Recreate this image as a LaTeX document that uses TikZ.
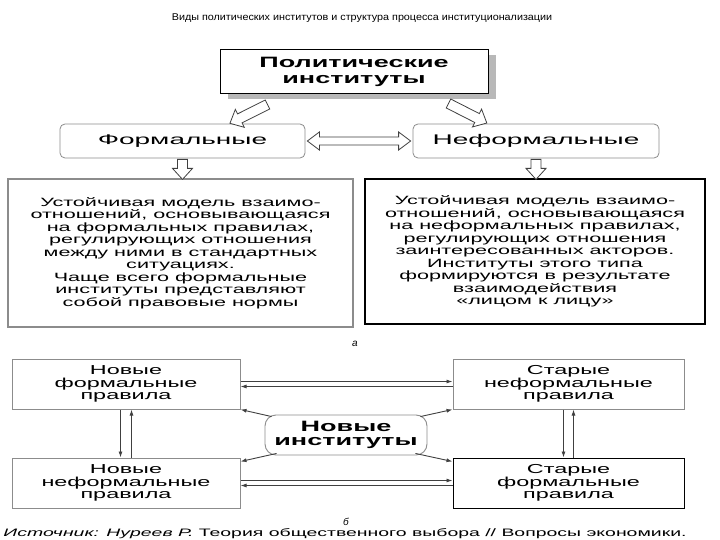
\documentclass[tikz,border=0pt]{standalone}
\usepackage{fontspec}
\setmainfont{Liberation Sans}
\newfontfamily\diagfont[FakeStretch=1.8]{Liberation Sans}
\newfontfamily\kindfont[FakeStretch=2.0]{Liberation Sans}
\newfontfamily\headfont[FakeStretch=1.1]{Liberation Sans}
\usetikzlibrary{arrows.meta,positioning,shadows}
\definecolor{boxgray}{gray}{0.55}
\definecolor{shadegray}{gray}{0.72}
\definecolor{inkgray}{gray}{0.25}

% hollow block arrow: start, angle, length
\newcommand{\blockarr}[3]{%
  \draw[blockarrow, shift={(#1)}, rotate=#2]
    (0,-5) -- (#3-11,-5) -- (#3-11,-10) -- (#3,0) -- (#3-11,10) -- (#3-11,5) -- (0,5) -- cycle;}

\tikzset{
  x=1pt, y=-1pt,
  blockarrow/.style={draw=inkgray, line width=0.8pt, fill=white, line join=miter},
  textbox/.style={draw=boxgray, line width=1.4pt, fill=white, align=center, inner sep=0pt,
    font=\diagfont\fontsize{12}{12.5}\selectfont},
  rulebox/.style={draw=boxgray, line width=1pt, fill=white, align=center, inner sep=0pt,
    minimum width=228pt, minimum height=50pt, font=\diagfont\fontsize{13}{12.5}\selectfont},
  kindbox/.style={draw=boxgray, line width=0.8pt, rounded corners=5pt, fill=white,
    minimum width=245pt, minimum height=34pt, font=\kindfont\fontsize{14}{14}\selectfont},
  link/.style={draw=inkgray, line width=0.9pt, -{Latex[length=6pt,width=4pt]}}
}

\begin{document}
\begin{tikzpicture}
  \useasboundingbox (0,0) rectangle (720,540);
  \clip (0,0) rectangle (720,540);
  \fill[white] (0,0) rectangle (720,540);

  \node (title) at (362,18) {\headfont\fontsize{9.8}{11}\selectfont Виды политических институтов и структура процесса институционализации};

  % top part
  \node[draw=black, line width=1pt, fill=white, minimum width=268pt, minimum height=44pt, align=center,
    drop shadow={shadow xshift=8pt, shadow yshift=-5pt, fill=shadegray, opacity=1},
    font=\diagfont\bfseries\fontsize{15}{16}\selectfont] (pi) at (354,72) {Политические\\институты};

  \node[kindbox] (fm) at (182.5,141) {Формальные};
  \node[kindbox, minimum width=246pt] (inf) at (536,141) {Неформальные};

  \blockarr{[xshift=48pt,yshift=-10pt]pi.south west}{206.6}{42}
  \blockarr{[xshift=-40pt,yshift=-9pt]pi.south east}{-27}{43}

  \draw[blockarrow] ([xshift=2pt]fm.east) -- ([xshift=14pt,yshift=9pt]fm.east) -- ([xshift=14pt,yshift=4pt]fm.east)
    -- ([xshift=-14pt,yshift=4pt]inf.west) -- ([xshift=-14pt,yshift=9pt]inf.west) -- ([xshift=-2pt]inf.west)
    -- ([xshift=-14pt,yshift=-9pt]inf.west) -- ([xshift=-14pt,yshift=-4pt]inf.west)
    -- ([xshift=14pt,yshift=-4pt]fm.east) -- ([xshift=14pt,yshift=-9pt]fm.east) -- cycle;

  \node[textbox, minimum width=345pt, minimum height=148pt] (fmtext) at (180.5,253)
    {Устойчивая модель взаимо-\\отношений, основывающаяся\\на формальных правилах,\\регулирующих отношения\\между ними в стандартных\\ситуациях.\\Чаще всего формальные\\институты представляют\\собой правовые нормы};
  \node[textbox, draw=black, line width=1.2pt, minimum width=340pt, minimum height=145pt] (inftext) at (535,251.5)
    {Устойчивая модель взаимо-\\отношений, основывающаяся\\на неформальных правилах,\\регулирующих отношения\\заинтересованных акторов.\\Институты этого типа\\формируются в результате\\взаимодействия\\«лицом к лицу»};

  \blockarr{[yshift=-1pt]fm.south}{-90}{20}
  \blockarr{[yshift=-1pt]inf.south}{-90}{20}

  \node[font=\itshape\fontsize{10}{10}\selectfont] (lbla) at (355,344) {а};

  % bottom part
  \node[rulebox] (nfr) at (126,384) {Новые\\формальные\\правила};
  \node[rulebox] (nir) at (126,483) {Новые\\неформальные\\правила};
  \node[rulebox, minimum width=231pt] (oir) at (568.5,384) {Старые\\неформальные\\правила};
  \node[rulebox, minimum width=231pt, draw=black] (ofr) at (568.5,483) {Старые\\формальные\\правила};
  \node[draw=boxgray, line width=0.9pt, rounded corners=11pt, fill=white, minimum width=162pt, minimum height=40pt,
    align=center, inner sep=0pt, font=\diagfont\bfseries\fontsize{15}{13.5}\selectfont] (ni) at (346,435) {Новые\\институты};

  \draw[link] ([yshift=2.5pt]nfr.east) -- ([yshift=2.5pt]oir.west);
  \draw[link] ([yshift=-2.5pt]oir.west) -- ([yshift=-2.5pt]nfr.east);
  \draw[link] ([yshift=2.5pt]nir.east) -- ([yshift=2.5pt]ofr.west);
  \draw[link] ([yshift=-2.5pt]ofr.west) -- ([yshift=-2.5pt]nir.east);

  \draw[link] ([xshift=-5.5pt]nfr.south) -- ([xshift=-5.5pt]nir.north);
  \draw[link] ([xshift=5.5pt]nir.north) -- ([xshift=5.5pt]nfr.south);
  \draw[link] ([xshift=-5pt]oir.south) -- ([xshift=-5pt]ofr.north);
  \draw[link] ([xshift=5pt]ofr.north) -- ([xshift=5pt]oir.south);

  \draw[link] ([xshift=7pt,yshift=-2pt]ni.north west) -- (nfr.south east);
  \draw[link] ([xshift=12pt,yshift=2pt]ni.south west) -- ([yshift=-4pt]nir.north east);
  \draw[link] ([xshift=-7pt,yshift=-2pt]ni.north east) -- (oir.south west);
  \draw[link] ([xshift=-12pt,yshift=2pt]ni.south east) -- ([yshift=-4pt]ofr.north west);

  \node[font=\itshape\fontsize{10}{10}\selectfont] (lblb) at (346,522) {б};
  \node[font=\diagfont\fontsize{10.8}{11}\selectfont] (src) at (345,533.5)
    {\itshape Источник: Нуреев Р. \upshape Теория общественного выбора // Вопросы экономики.};
\end{tikzpicture}
\end{document}
